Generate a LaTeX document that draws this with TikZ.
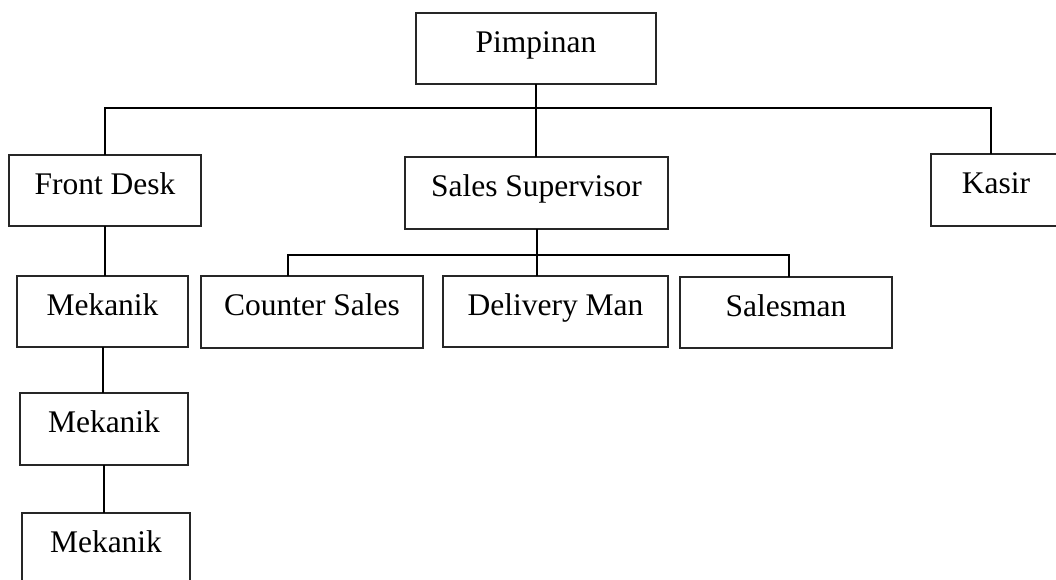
\documentclass[tikz,border=0pt]{standalone}
\usepackage{fontspec}
\setmainfont{Liberation Serif}
\begin{document}
\begin{tikzpicture}[x=1pt,y=-1pt,
  orgbox/.style={draw=black!85, line width=1.2pt, rectangle, inner sep=0pt, outer sep=0pt,
    font=\fontsize{31.5}{38}\selectfont, text height=22pt, text depth=15pt, align=center},
  link/.style={draw=black, line width=2pt}]
\useasboundingbox (0,0) rectangle (1056,579);
\clip (0,0) rectangle (1056,579);
\node[orgbox, minimum width=240pt, minimum height=71pt] (pim) at (536,48.5) {Pimpinan};
\node[orgbox, minimum width=192pt, minimum height=71pt] (fd) at (105,190.5) {Front Desk};
\node[orgbox, minimum width=263pt, minimum height=72pt] (ss) at (536.5,193) {Sales Supervisor};
\node[orgbox, minimum width=130pt, minimum height=72pt] (ka) at (996,190) {Kasir};
\node[orgbox, minimum width=171pt, minimum height=71pt] (m1) at (102.5,311.5) {Mekanik};
\node[orgbox, minimum width=168pt, minimum height=72pt] (m2) at (104,429) {Mekanik};
\node[orgbox, minimum width=168pt, minimum height=71pt] (m3) at (106,548.5) {Mekanik};
\node[orgbox, minimum width=222pt, minimum height=72pt] (cs) at (312,312) {Counter Sales};
\node[orgbox, minimum width=225pt, minimum height=71pt] (dm) at (555.5,311.5) {Delivery Man};
\node[orgbox, minimum width=212pt, minimum height=71pt] (sm) at (786,312.5) {Salesman};
% top level
\coordinate (a1) at (105,108);
\coordinate (a2) at (991,108);
\draw[link] (pim.south) -- (pim.south |- ss.north);
\draw[link] (a1 |- fd.north) -- (a1) -- (a2) -- (a2 |- ka.north);
% front desk chain
\draw[link] (a1 |- fd.south) -- (a1 |- m1.north);
\draw[link] (103,347) coordinate (b1) -- (b1 |- m2.north);
\draw[link] (104,465) coordinate (b2) -- (b2 |- m3.north);
% sales supervisor
\coordinate (t1) at (288,255);
\coordinate (t2) at (789,255);
\draw[link] (ss.south) -- (ss.south |- t1);
\draw[link] (t1 |- cs.north) -- (t1) -- (t2) -- (t2 |- sm.north);
\draw[link] (ss.south |- t1) -- (ss.south |- dm.north);
\end{tikzpicture}
\end{document}
